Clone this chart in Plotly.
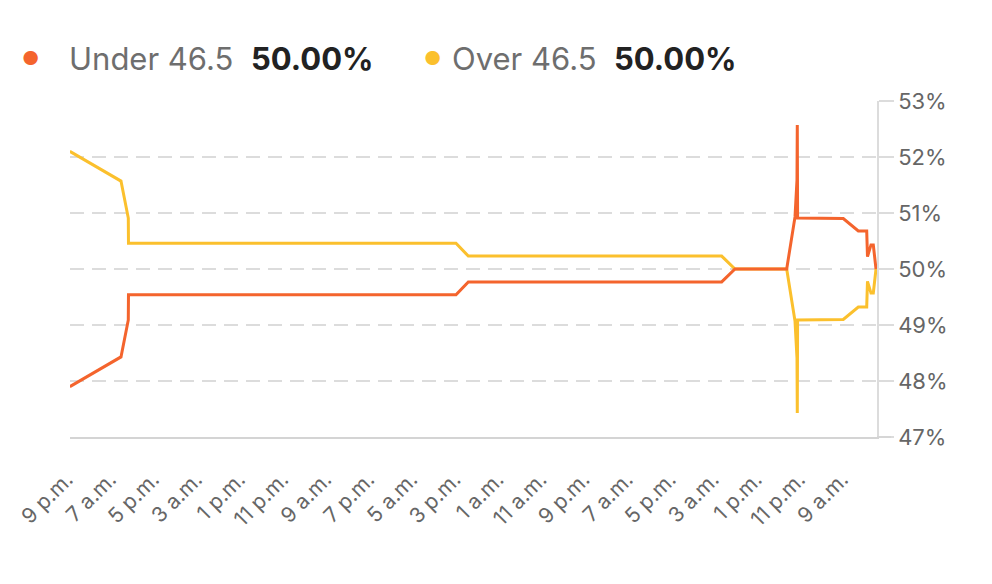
import plotly.graph_objects as go

# ---- data (hours since first tick, probability in %) ----
hours = [-0.5, 11.38, 13.08, 13.12, 89.18, 92.04, 150.88, 153.97, 165.98, 167.91,
         168.37, 168.44, 168.51, 179.12, 182.61, 184.56, 184.74, 185.56, 186.09, 186.72]
under = [47.90, 48.43, 49.09, 49.54, 49.54, 49.77, 49.77, 50.00, 50.00, 50.93,
         51.59, 52.57, 50.91, 50.90, 50.68, 50.68, 50.22, 50.43, 50.43, 50.00]
over = [52.10, 51.57, 50.91, 50.46, 50.46, 50.23, 50.23, 50.00, 50.00, 49.07,
        48.41, 47.43, 49.09, 49.10, 49.32, 49.32, 49.78, 49.57, 49.57, 50.00]

tick_hours = [0, 10, 20, 30, 40, 50, 60, 70, 80, 90, 100, 110, 120, 130, 140, 150, 160, 170, 180]
tick_text = ["9 p.m.", "7 a.m.", "5 p.m.", "3 a.m.", "1 p.m.", "11 p.m.", "9 a.m.", "7 p.m.",
             "5 a.m.", "3 p.m.", "1 a.m.", "11 a.m.", "9 p.m.", "7 a.m.", "5 p.m.", "3 a.m.",
             "1 p.m.", "11 p.m.", "9 a.m."]

series_names = ["Under 46.5", "Over 46.5"]
series_current = ["50.00%", "50.00%"]

C_UNDER = "#F4642D"
C_OVER = "#FBC02D"
FONT = "Inter"

fig = go.Figure()
fig.add_trace(go.Scatter(x=hours, y=over, mode="lines", name=series_names[1],
                         line=dict(color=C_OVER, width=3), showlegend=False))
fig.add_trace(go.Scatter(x=hours, y=under, mode="lines", name=series_names[0],
                         line=dict(color=C_UNDER, width=3), showlegend=False))

# page has an 8px body margin; plot area in page coords: x 70..877, y 101..437
OFF = 8
W, H = 992, 584
L, R, T, B = 70 - OFF, 123, 101 - OFF, 155
pw, ph = W - L - R, H - T - B

def px(x):
    return (x - OFF - L) / pw

def py(y):
    return (H - B - (y - OFF)) / ph

ann = []
legend_items = [
    (series_names[0], series_current[0], C_UNDER, 30, 70, 252),
    (series_names[1], series_current[1], C_OVER, 432, 453, 615),
]
for name, cur, col, xd, xn, xv in legend_items:
    ann.append(dict(text="●", x=px(xd), y=py(58), xref="paper", yref="paper",
                    xanchor="center", yanchor="middle", showarrow=False,
                    font=dict(size=19, color=col, family=FONT)))
    ann.append(dict(text=name, x=px(xn - 3), y=py(58), xref="paper", yref="paper",
                    xanchor="left", yanchor="middle", showarrow=False,
                    font=dict(size=31, color="#6e6e6e", family=FONT)))
    ann.append(dict(text="<b>" + cur + "</b>", x=px(xv - 3), y=py(58), xref="paper", yref="paper",
                    xanchor="left", yanchor="middle", showarrow=False,
                    font=dict(size=31, color="#222222", family=FONT)))

fig.update_layout(
    width=W, height=H,
    margin=dict(l=L, r=R, t=T, b=B, autoexpand=False),
    paper_bgcolor="white", plot_bgcolor="white",
    font=dict(family=FONT, color="#666666", size=20),
    annotations=ann,
    showlegend=False,
    shapes=[dict(type="line", xref="paper", yref="paper", x0=1, x1=1 + 14 / pw,
                 y0=0, y1=0, line=dict(color="#d4d4d4", width=1.5))],
)
fig.update_xaxes(
    range=[-0.46, 186.95], automargin=False,
    tickmode="array", tickvals=tick_hours, ticktext=tick_text,
    tickangle=-45, tickfont=dict(size=21, color="#666666", family=FONT),
    showgrid=False, zeroline=False,
    showline=True, linecolor="#d4d4d4", linewidth=1.5,
    ticks="outside", ticklen=20, tickcolor="rgba(0,0,0,0)",
    ticklabelshift=-5,
)
fig.update_yaxes(
    range=[47, 53], dtick=1, side="right", automargin=False,
    ticksuffix="%",
    tickfont=dict(size=22, color="#666666", family=FONT),
    showgrid=True, gridcolor="#dcdcdc", griddash="14px,8px", gridwidth=1.5,
    zeroline=False,
    showline=True, linecolor="#dcdcdc", linewidth=1.5,
    ticks="outside", ticklen=15, tickcolor="#dcdcdc", tickwidth=1.5,
)

fig.write_html("out.html")
